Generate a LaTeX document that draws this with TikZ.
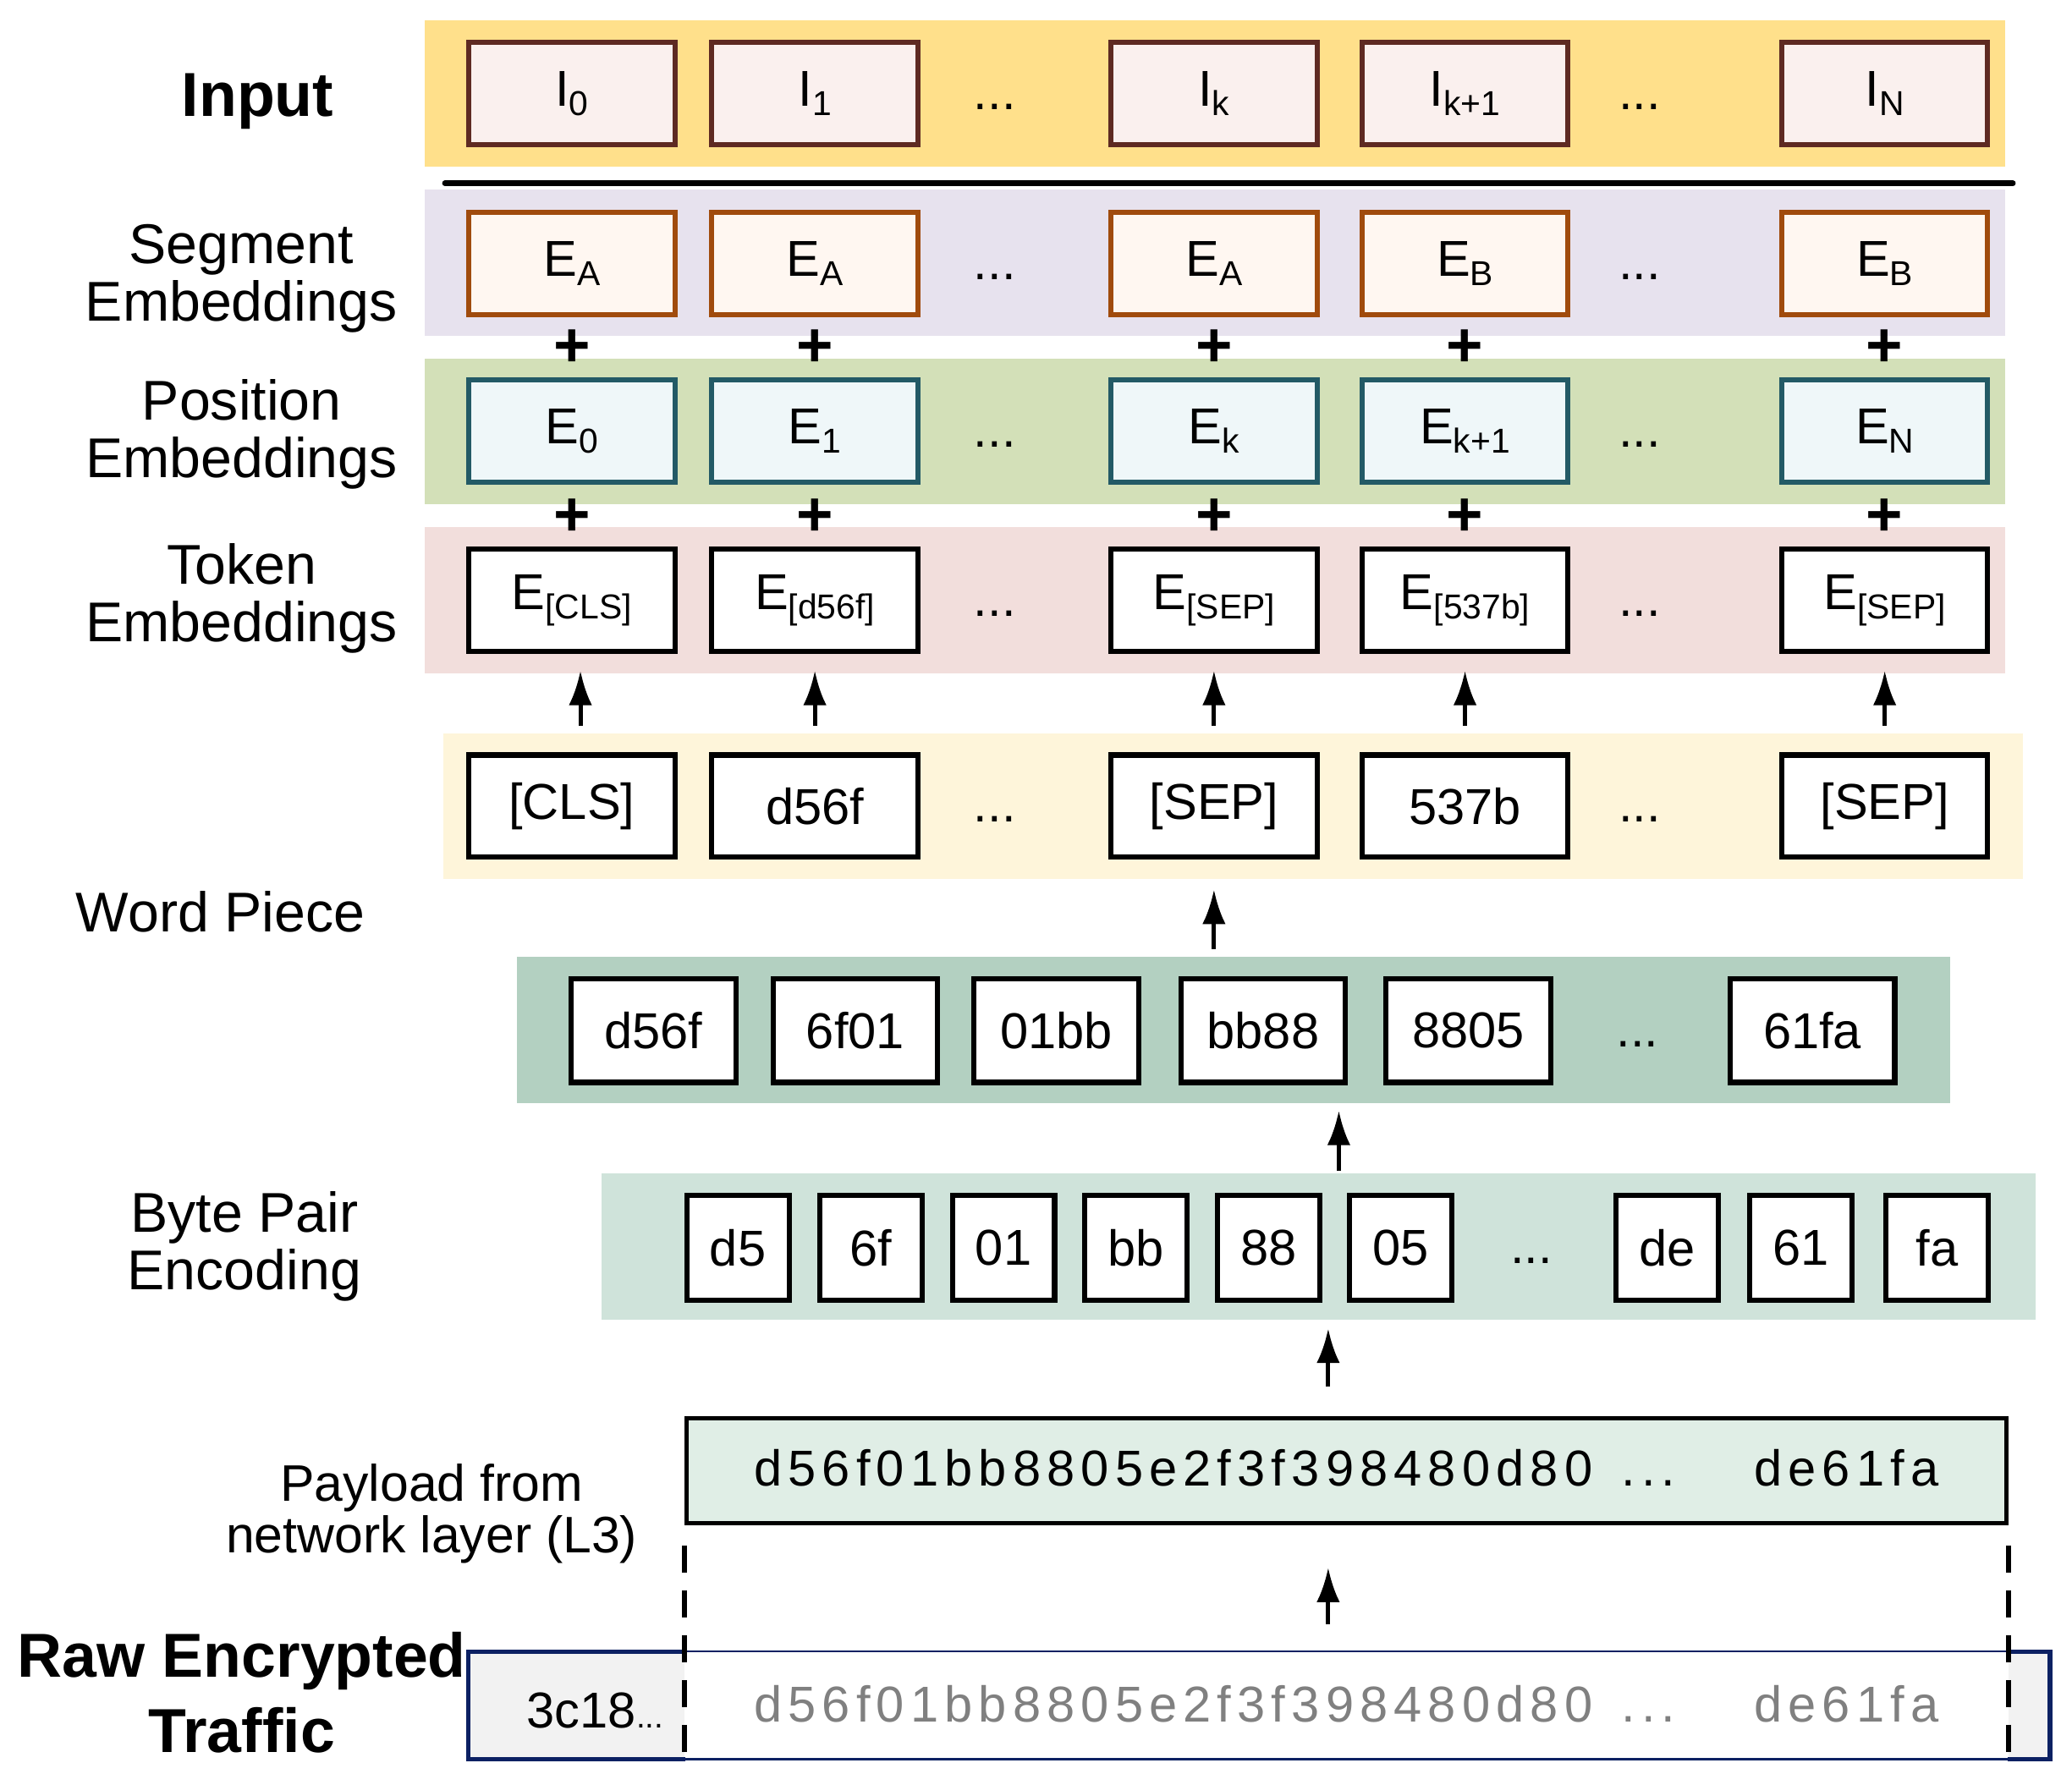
\documentclass[tikz,border=0pt]{standalone}
\usepackage{fontspec}
\setmainfont{Liberation Sans}
\usetikzlibrary{arrows.meta}

\definecolor{inband}{HTML}{FFE08B}
\definecolor{inedge}{HTML}{5E2A22}
\definecolor{infill}{HTML}{FAF0EE}
\definecolor{segband}{HTML}{E7E2EE}
\definecolor{segedge}{HTML}{A04B0D}
\definecolor{segfill}{HTML}{FFF7F1}
\definecolor{posband}{HTML}{D3E0B8}
\definecolor{posedge}{HTML}{235A66}
\definecolor{posfill}{HTML}{EFF7F9}
\definecolor{tokband}{HTML}{F2DEDC}
\definecolor{wpband}{HTML}{FEF5DA}
\definecolor{bpewband}{HTML}{B3D0C1}
\definecolor{bpebband}{HTML}{CFE3DA}
\definecolor{payfill}{HTML}{E0EEE6}
\definecolor{rawedge}{HTML}{0C2163}
\definecolor{rawgray}{HTML}{F2F2F2}
\definecolor{hexgray}{HTML}{808080}

\newcommand{\lowsub}[1]{\raisebox{-0.35ex}{\fontsize{7.4}{8}\selectfont #1}}

\tikzset{
    band/.style = {rectangle, inner sep=0pt, minimum width=11.89cm, minimum height=1.1cm},
    cell/.style = {rectangle, inner sep=0pt, line width=1.1pt, font=\fontsize{10.8}{12}\selectfont},
    in-box/.style = {cell, draw=inedge, fill=infill, minimum width=1.55cm, minimum height=0.77cm},
    seg-box/.style = {cell, draw=segedge, fill=segfill, minimum width=1.55cm, minimum height=0.77cm},
    pos-box/.style = {cell, draw=posedge, fill=posfill, minimum width=1.55cm, minimum height=0.77cm},
    tok-box/.style = {cell, draw=black, fill=white, minimum width=1.55cm, minimum height=0.77cm},
    bpew-box/.style = {cell, draw=black, fill=white, minimum width=1.24cm, minimum height=0.78cm},
    bpeb-box/.style = {cell, draw=black, fill=white, minimum width=0.77cm, minimum height=0.79cm},
    gap-dots/.style = {anchor=base, inner sep=0pt, font=\fontsize{10.8}{12}\selectfont},
    plus-sign/.style = {inner sep=0pt, font=\fontsize{13.5}{13.5}\selectfont\bfseries},
    row-label/.style = {align=center, inner sep=0pt, font=\fontsize{12}{12.3}\selectfont},
    row-title/.style = {align=center, inner sep=0pt, font=\fontsize{13.3}{16}\selectfont\bfseries},
    hex-text/.style = {anchor=base west, inner sep=0pt, font=\fontsize{10.8}{12}\selectfont\addfontfeature{LetterSpace=12}},
    up-arrow/.style = {-{Latex[length=2.6mm,width=1.75mm]}, line width=0.9pt},
    cut-line/.style = {line width=1pt, dash pattern=on 5.9pt off 3.7pt},
    raw-side/.style = {rectangle, inner sep=0pt, fill=rawgray, minimum height=0.796cm},
    raw-edge/.style = {draw=rawedge, line width=0.95pt},
}

\begin{document}
\begin{tikzpicture}[x=0.01cm, y=-0.01cm]
\useasboundingbox (0,0) rectangle (1560,1344);

% coloured bands behind the rows
\node[band, fill=inband] (in-band) at (914.5,70.5) {};
\node[band, fill=segband] (seg-band) at (914.5,197.8) {};
\node[band, fill=posband] (pos-band) at (914.5,324.8) {};
\node[band, fill=tokband] (tok-band) at (914.5,452) {};
\node[band, fill=wpband] (wp-band) at (928.5,607) {};
\node[band, fill=bpewband, minimum width=10.79cm] (bpew-band) at (928.75,775.5) {};
\node[band, fill=bpebband, minimum width=10.79cm] (bpeb-band) at (993,938.5) {};

\draw[line width=1.2pt, line cap=round] (335,138) -- (1515.5,138);

% row labels
\node[row-title, anchor=base] (in-label) at (194,87.8) {Input};
\node[row-label] (seg-label) at (181.6,209.6) {Segment\\Embeddings};
\node[row-label] (pos-label) at (182,327) {Position\\Embeddings};
\node[row-label] (tok-label) at (182,450.5) {Token\\Embeddings};
\node[row-label, anchor=base] (wp-label) at (166,701.4) {Word Piece};
\node[row-label] (bpe-label) at (184,938.7) {Byte Pair\\Encoding};
\node[row-label, font=\fontsize{11}{10.9}\selectfont] (pay-label) at (325,1139.7) {Payload from\\network layer (L3)};
\node[row-title] (raw-label) at (182,1274.5) {Raw Encrypted\\Traffic};

% input
\node[in-box] (i1) at (430.5,70.5) {I\lowsub{0}};
\node[in-box] (i2) at (613.5,70.5) {I\lowsub{1}};
\node[gap-dots] (i-dots1) at (749,82.5) {...};
\node[in-box] (i3) at (914,70.5) {I\lowsub{k}};
\node[in-box] (i4) at (1103,70.5) {I\lowsub{k+1}};
\node[gap-dots] (i-dots2) at (1234.6,82.5) {...};
\node[in-box] (i5) at (1419,70.5) {I\lowsub{N}};

% segment embeddings
\node[seg-box] (s1) at (430.5,198.3) {E\lowsub{A}};
\node[seg-box] (s2) at (613.5,198.3) {E\lowsub{A}};
\node[gap-dots] (s-dots1) at (749,210.3) {...};
\node[seg-box] (s3) at (914,198.3) {E\lowsub{A}};
\node[seg-box] (s4) at (1103,198.3) {E\lowsub{B}};
\node[gap-dots] (s-dots2) at (1234.6,210.3) {...};
\node[seg-box] (s5) at (1419,198.3) {E\lowsub{B}};

\node[plus-sign] (sp1) at (430.5,262.5) {+};
\node[plus-sign] (sp2) at (613.5,262.5) {+};
\node[plus-sign] (sp3) at (914,262.5) {+};
\node[plus-sign] (sp4) at (1103,262.5) {+};
\node[plus-sign] (sp5) at (1419,262.5) {+};

% position embeddings
\node[pos-box] (p1) at (430.5,324.8) {E\lowsub{0}};
\node[pos-box] (p2) at (613.5,324.8) {E\lowsub{1}};
\node[gap-dots] (p-dots1) at (749,336.8) {...};
\node[pos-box] (p3) at (914,324.8) {E\lowsub{k}};
\node[pos-box] (p4) at (1103,324.8) {E\lowsub{k+1}};
\node[gap-dots] (p-dots2) at (1234.6,336.8) {...};
\node[pos-box] (p5) at (1419,324.8) {E\lowsub{N}};

\node[plus-sign] (pp1) at (430.5,389.4) {+};
\node[plus-sign] (pp2) at (613.5,389.4) {+};
\node[plus-sign] (pp3) at (914,389.4) {+};
\node[plus-sign] (pp4) at (1103,389.4) {+};
\node[plus-sign] (pp5) at (1419,389.4) {+};

% token embeddings
\node[tok-box] (t1) at (430.5,452) {E\lowsub{[CLS]}};
\node[tok-box] (t2) at (613.5,452) {E\lowsub{[d56f]}};
\node[gap-dots] (t-dots1) at (749,464) {...};
\node[tok-box] (t3) at (914,452) {E\lowsub{[SEP]}};
\node[tok-box] (t4) at (1103,452) {E\lowsub{[537b]}};
\node[gap-dots] (t-dots2) at (1234.6,464) {...};
\node[tok-box] (t5) at (1419,452) {E\lowsub{[SEP]}};

% word pieces
\node[tok-box] (w1) at (430.5,607) {[CLS]};
\node[tok-box] (w2) at (613.5,607) {d56f};
\node[gap-dots] (w-dots1) at (749,619) {...};
\node[tok-box] (w3) at (914,607) {[SEP]};
\node[tok-box] (w4) at (1103,607) {537b};
\node[gap-dots] (w-dots2) at (1234.6,619) {...};
\node[tok-box] (w5) at (1419,607) {[SEP]};

% byte pair merges
\node[bpew-box] (bw1) at (492,776) {d56f};
\node[bpew-box] (bw2) at (644,776) {6f01};
\node[bpew-box] (bw3) at (795.5,776) {01bb};
\node[bpew-box] (bw4) at (951,776) {bb88};
\node[bpew-box] (bw5) at (1105.5,776) {8805};
\node[gap-dots] (bw-dots) at (1233,788) {...};
\node[bpew-box] (bw6) at (1364.5,776) {61fa};

% single bytes
\node[bpeb-box] (bb1) at (555.5,939.5) {d5};
\node[bpeb-box] (bb2) at (655.5,939.5) {6f};
\node[bpeb-box] (bb3) at (755.5,939.5) {01};
\node[bpeb-box] (bb4) at (855,939.5) {bb};
\node[bpeb-box] (bb5) at (955,939.5) {88};
\node[bpeb-box] (bb6) at (1054.5,939.5) {05};
\node[gap-dots] (bb-dots) at (1153,951.5) {...};
\node[bpeb-box] (bb7) at (1255,939.5) {de};
\node[bpeb-box] (bb8) at (1356,939.5) {61};
\node[bpeb-box] (bb9) at (1458.5,939.5) {fa};

% payload and raw traffic
\node[cell, draw=black, line width=1pt, fill=payfill, minimum width=9.93cm, minimum height=0.79cm] (payload) at (1013.75,1107.4) {};
\node[hex-text] (pay-hex) at (567,1119) {d56f01bb8805e2f3f398480d80};
\node[hex-text] (pay-dots) at (1220,1119) {...};
\node[hex-text] (pay-tail) at (1320,1119) {de61fa};

\node[cell, draw=rawedge, line width=0.45pt, fill=white, minimum width=11.88cm, minimum height=0.813cm] (raw) at (948,1284) {};
\node[raw-side, minimum width=1.62cm] (raw-left) at (434.4,1284.1) {};
\node[raw-side, minimum width=0.307cm] (raw-right) at (1527.35,1284.1) {};
\draw[raw-edge] (raw-left.north east) -- (raw-left.north west) -- (raw-left.south west) -- (raw-left.south east);
\draw[raw-edge] (raw-right.north west) -- (raw-right.north east) -- (raw-right.south east) -- (raw-right.south west);
\node[anchor=base west, inner sep=0pt, font=\fontsize{10.8}{12}\selectfont] (raw-head) at (396,1301.2) {3c18{\fontsize{7}{7}\selectfont...}};
\node[hex-text, text=hexgray] (raw-hex) at (567,1296.3) {d56f01bb8805e2f3f398480d80};
\node[hex-text, text=hexgray] (raw-dots) at (1220,1296.3) {...};
\node[hex-text, text=hexgray] (raw-tail) at (1320,1296.3) {de61fa};

\draw[cut-line, shorten <=0.15cm] (payload.south west) -- (payload.south west |- raw.south);
\draw[cut-line, shorten <=0.15cm] (payload.south east) -- (payload.south east |- raw.south);

% arrows
\draw[up-arrow, shorten <=0.2cm, shorten >=0.125cm] ([xshift=0.065cm]w1.north) -- ([xshift=0.065cm]t1.south);
\draw[up-arrow, shorten <=0.2cm, shorten >=0.125cm] (w2.north) -- (t2.south);
\draw[up-arrow, shorten <=0.2cm, shorten >=0.125cm] (w3.north) -- (t3.south);
\draw[up-arrow, shorten <=0.2cm, shorten >=0.125cm] (w4.north) -- (t4.south);
\draw[up-arrow, shorten <=0.2cm, shorten >=0.125cm] (w5.north) -- (t5.south);
\draw[up-arrow, shorten <=0.05cm, shorten >=0.07cm] (w3 |- bpew-band.north) -- (w3 |- wp-band.south);
\coordinate (byte-up) at (1008,0);
\coordinate (pay-up) at (1000,0);
\draw[up-arrow, shorten <=0.01cm, shorten >=0.05cm] (byte-up |- bpeb-band.north) -- (byte-up |- bpew-band.south);
\draw[up-arrow, shorten <=0.22cm, shorten >=0.06cm] (pay-up |- payload.north) -- (pay-up |- bpeb-band.south);
\draw[up-arrow, shorten <=0.194cm, shorten >=0.316cm] (pay-up |- raw.north) -- (pay-up |- payload.south);
\end{tikzpicture}
\end{document}
